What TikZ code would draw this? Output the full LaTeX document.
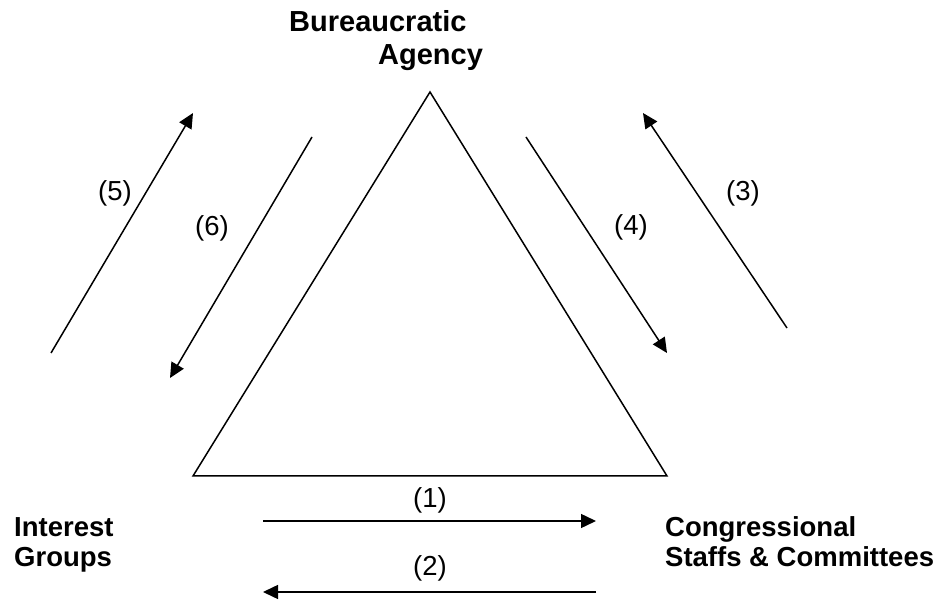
\documentclass[tikz,border=0pt]{standalone}
\usepackage{fontspec}
\setmainfont{Liberation Sans}
\usetikzlibrary{arrows.meta}
\begin{document}
\begin{tikzpicture}[x=1pt,y=-1pt,
  title/.style={font=\bfseries\fontsize{27.5}{30}\selectfont, inner sep=0pt, anchor=base west},
  toptitle/.style={font=\bfseries\fontsize{29}{31}\selectfont, inner sep=0pt, anchor=base west},
  num/.style={font=\fontsize{27.5}{29}\selectfont, inner sep=0pt},
  line/.style={line width=1.5pt},
  flow/.style={line width=1.5pt, -{Triangle[length=15pt,width=14pt]}}]
\useasboundingbox (0,0) rectangle (938,601);
% triangle
\coordinate (apex) at (430,92);
\coordinate (bl) at (193,476);
\coordinate (br) at (667,476);
\draw[line, line join=miter] (apex) -- (bl) -- (br) -- cycle;
% titles
\node[toptitle] (bur1) at (289,32) {Bureaucratic};
\node[toptitle] (bur2) at (378,65) {Agency};
\node[title] (ig1) at (14,537) {Interest};
\node[title] (ig2) at (14,567) {Groups};
\node[title] (cs1) at (665,537) {Congressional};
\node[title] (cs2) at (665,567) {Staffs \& Committees};
% arrow endpoints
\coordinate (a1s) at (263,521); \coordinate (a1e) at (596,521);
\coordinate (a2s) at (596,592); \coordinate (a2e) at (263,592);
\coordinate (a3s) at (787,328); \coordinate (a3e) at (643,113);
\coordinate (a4s) at (526,137); \coordinate (a4e) at (667,353);
\coordinate (a5s) at (51,353);  \coordinate (a5e) at (193,113);
\coordinate (a6s) at (312,137); \coordinate (a6e) at (170,378);
\draw[flow] (a1s) -- (a1e);
\draw[flow] (a2s) -- (a2e);
\draw[flow] (a3s) -- (a3e);
\draw[flow] (a4s) -- (a4e);
\draw[flow] (a5s) -- (a5e);
\draw[flow] (a6s) -- (a6e);
% numbers
\node[num] (n1) at (430,500) {(1)};
\node[num] (n2) at (430,568) {(2)};
\node[num] (n3) at (743,193) {(3)};
\node[num] (n4) at (631,227) {(4)};
\node[num] (n5) at (115,193) {(5)};
\node[num] (n6) at (212,228) {(6)};
\end{tikzpicture}
\end{document}
